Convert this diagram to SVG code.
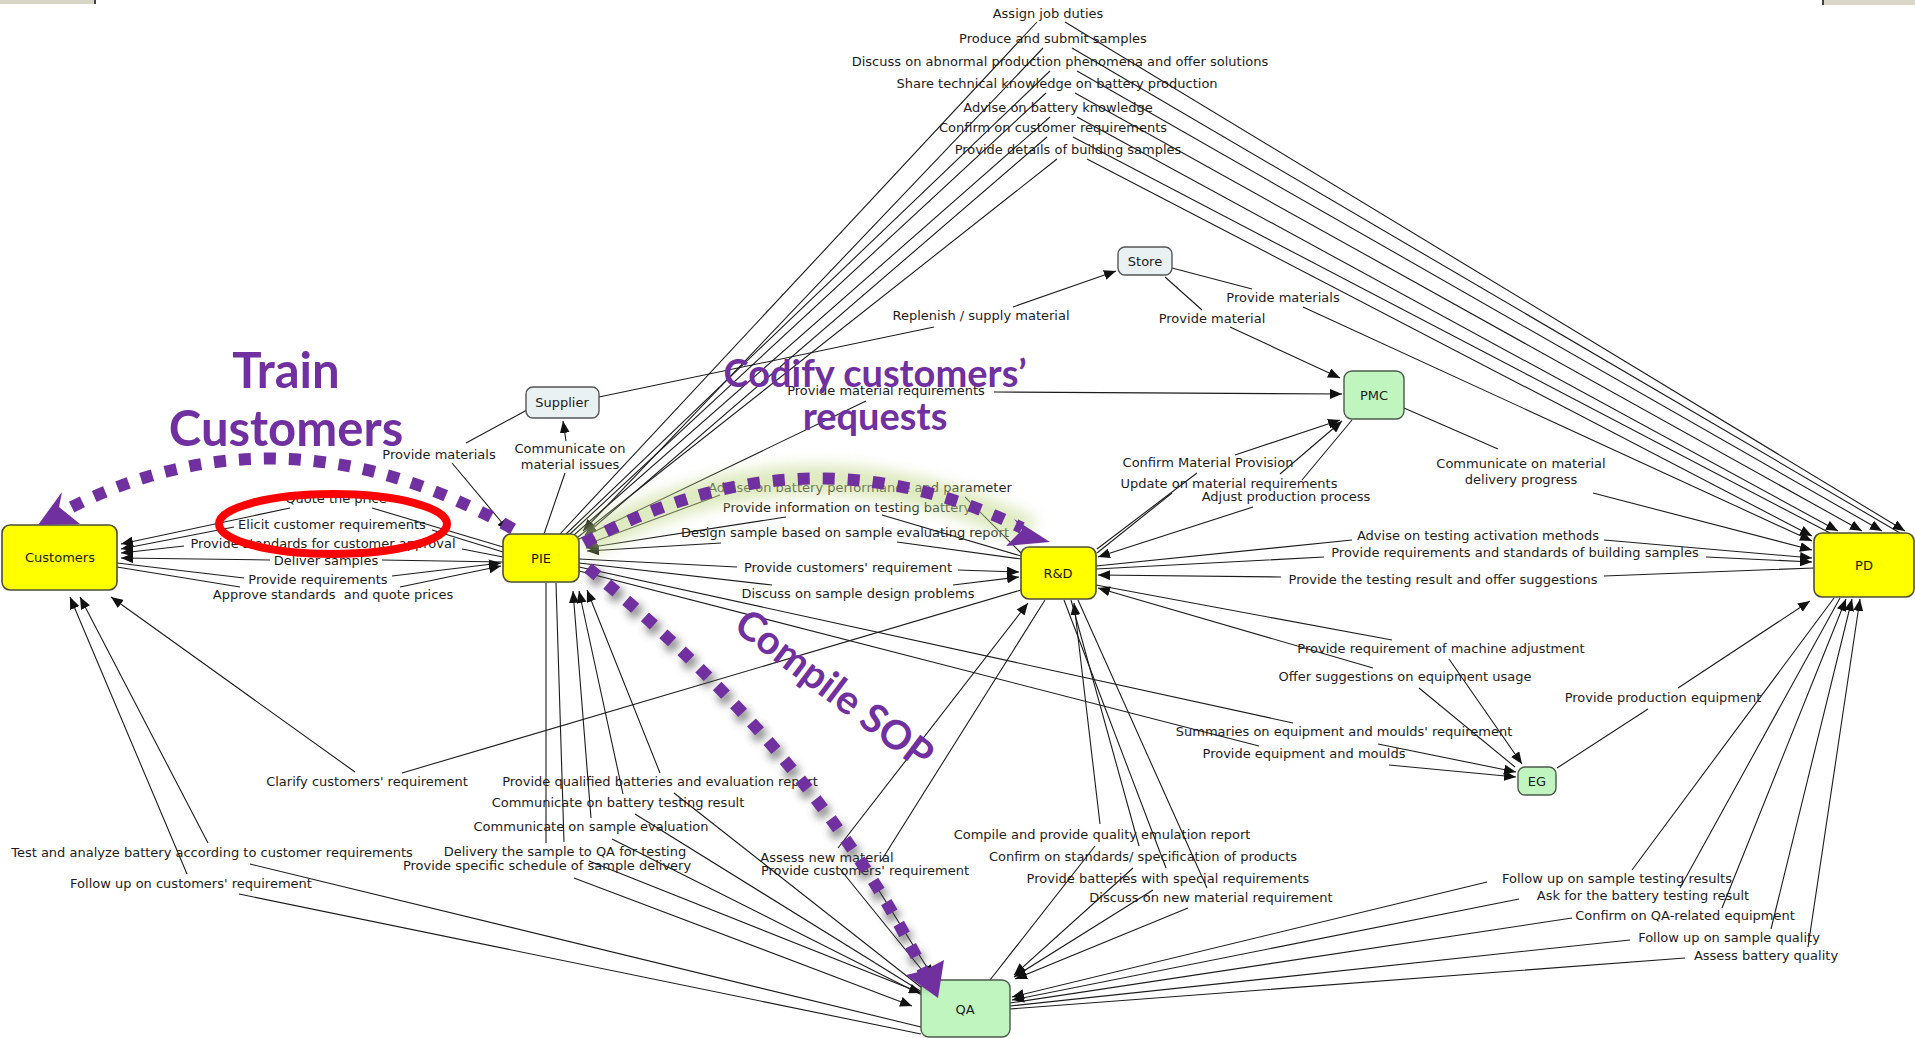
<svg xmlns="http://www.w3.org/2000/svg" width="1915" height="1038" viewBox="0 0 1915 1038">
  <style>
    .lbl { font-family: "DejaVu Sans", Verdana, sans-serif; font-size: 13px; fill: #1c1c1c; text-anchor: middle; }
    .ntx { font-family: "DejaVu Sans", Verdana, sans-serif; font-size: 13px; fill: #1c1c1c; text-anchor: middle; }
    .main rect { fill: #ffff00; stroke: #4d4d3a; stroke-width: 1.6; }
    .grn rect { fill: #c0f5c0; stroke: #4a5a4a; stroke-width: 1.4; }
    .ext rect { fill: #e9f1f3; stroke: #555; stroke-width: 1.4; }
    .e { fill: none; stroke: #1c1c1c; stroke-width: 1.1; }
    .a { fill: none; stroke: #1c1c1c; stroke-width: 1.1; marker-end: url(#arr); }
    .note { font-family: Lato, "Open Sans", sans-serif; font-weight: bold; fill: #7030a0; text-anchor: middle; }
    .dots { fill: none; stroke: #7030a0; stroke-width: 12; stroke-dasharray: 12 13; }
  </style>
  <defs>
    <marker id="arr" markerUnits="userSpaceOnUse" markerWidth="13" markerHeight="10" refX="12" refY="5" orient="auto">
      <path d="M0,0 L12,5 L0,10 z" fill="#111"/>
    </marker>
    <filter id="glow" x="-20%" y="-50%" width="140%" height="200%">
      <feGaussianBlur stdDeviation="7"/>
    </filter>
    <filter id="shade" x="-20%" y="-20%" width="140%" height="140%">
      <feGaussianBlur stdDeviation="4"/>
    </filter>
  </defs>

  <rect width="1915" height="1038" fill="#ffffff"/>
  <!-- window edge strips -->
  <rect x="0" y="0" width="95" height="4" fill="#d9d6c8"/>
  <rect x="94" y="0" width="2" height="4" fill="#444"/>
  <rect x="1823" y="0" width="92" height="5" fill="#d9d6c8"/>
  <rect x="1822" y="0" width="2" height="5" fill="#444"/>

  <g id="connectors">
    <!-- PIE / Customers -->
    <path class="a" d="M503,547 L372,508 M290,508 L121,544"/>
    <path class="a" d="M503,552 L432,530 M234,527 L121,549"/>
    <path class="a" d="M503,557 L462,549 M184,546 L121,553"/>
    <path class="a" d="M503,562 L382,560 M270,560 L121,558"/>
    <path class="a" d="M117,563 L244,578 M392,576 L501,563"/>
    <path class="a" d="M117,567 L240,587 M400,587 L501,566"/>
    <!-- Supplier -->
    <path class="a" d="M527,410 L466,443 M452,463 L509,531"/>
    <path class="a" d="M544,534 L565,473 M566,441 L563,421"/>
    <path class="a" d="M599,397 L934,327 M1013,307 L1116,271"/>
    <!-- Store -->
    <path class="a" d="M1172,268 L1252,289 M1303,307 L1812,541"/>
    <path class="a" d="M1165,277 L1202,310 M1230,327 L1340,378"/>
    <!-- PMC -->
    <path class="a" d="M579,539 L866,401 M994,392 L1342,394"/>
    <path class="a" d="M1404,408 L1498,449 M1593,493 L1812,550"/>
    <path class="a" d="M1097,549 L1197,473 M1235,455 L1340,420"/>
    <path class="a" d="M1097,553 L1172,493 M1280,474 L1342,421"/>
    <path class="a" d="M1352,420 L1302,480 M1253,507 L1098,557"/>
    <!-- R&D / PD -->
    <path class="a" d="M1096,566 L1352,540 M1604,540 L1812,558"/>
    <path class="a" d="M1096,569 L1324,557 M1706,557 L1812,562"/>
    <path class="a" d="M1814,568 L1604,576 M1281,577 L1098,575"/>
    <!-- EG -->
    <path class="a" d="M1096,585 L1392,640 M1449,659 L1522,764"/>
    <path class="a" d="M1515,767 L1419,688 M1373,668 L1098,588"/>
    <path class="a" d="M579,567 L1293,723 M1378,744 L1516,772"/>
    <path class="a" d="M579,571 L1259,746 M1389,765 L1516,777"/>
    <path class="a" d="M1557,768 L1648,709 M1678,688 L1810,601"/>
    <!-- PD / QA -->
    <path class="a" d="M1834,598 L1632,870 M1487,882 L1012,997"/>
    <path class="a" d="M1840,598 L1680,888 M1519,899 L1012,1000"/>
    <path class="a" d="M1010,1003 L1572,918 M1722,908 L1846,599"/>
    <path class="a" d="M1010,1006 L1630,940 M1771,929 L1852,599"/>
    <path class="a" d="M1010,1009 L1685,958 M1808,947 L1860,599"/>
    <!-- R&D / QA -->
    <path class="a" d="M990,980 L1095,846 M1100,824 L1074,603"/>
    <path class="a" d="M1071,600 L1139,846 M1133,868 L1014,975"/>
    <path class="a" d="M1064,600 L1166,868 M1153,890 L1014,977"/>
    <path class="a" d="M1078,600 L1207,888 M1188,908 L1015,979"/>
    <path class="a" d="M930,980 L840,869 M838,848 L1028,603"/>
    <path class="a" d="M1045,600 L881,861 M873,881 L933,977"/>
    <!-- R&D / Customers -->
    <path class="a" d="M1021,590 L402,773 M355,772 L111,597"/>
    <!-- PIE / QA -->
    <path class="a" d="M922,988 L674,793 M660,773 L587,590"/>
    <path class="a" d="M922,992 L635,814 M623,794 L579,591"/>
    <path class="a" d="M922,995 L612,839 M591,818 L573,591"/>
    <path class="a" d="M546,583 L546,843 M589,861 L921,993"/>
    <path class="a" d="M556,583 L564,842 M574,878 L912,1006"/>
    <!-- Customers / QA -->
    <path class="a" d="M921,1027 L250,864 M208,843 L80,597"/>
    <path class="a" d="M921,1034 L239,894 M187,874 L70,597"/>
    <!-- PIE / R&D -->
    <path class="a" d="M1021,553 L965,497 M720,495 L585,545"/>
    <path class="a" d="M1021,556 L882,515 M786,517 L586,548"/>
    <path class="a" d="M1021,559 L897,542 M721,543 L587,551"/>
    <path class="a" d="M579,559 L737,567 M958,570 L1019,572"/>
    <path class="a" d="M579,563 L772,585 M953,585 L1019,577"/>
    <!-- PIE / PD -->
    <path class="a" d="M560,534 L1037,22 M1065,22 L1905,531"/>
    <path class="a" d="M1900,533 L1072,48 M1043,48 L583,531"/>
    <path class="a" d="M566,534 L1050,71 M1077,71 L1882,531"/>
    <path class="a" d="M570,534 L1046,93 M1075,93 L1862,531"/>
    <path class="a" d="M574,535 L1050,117 M1077,117 L1838,531"/>
    <path class="a" d="M1830,533 L1073,137 M1047,137 L585,535"/>
    <path class="a" d="M578,537 L1057,159 M1087,159 L1812,536"/>
  </g>

  <g id="link-labels">
    <text class="lbl" x="1048" y="18">Assign job duties</text>
    <text class="lbl" x="1053" y="43">Produce and submit samples</text>
    <text class="lbl" x="1060" y="66">Discuss on abnormal production phenomena and offer solutions</text>
    <text class="lbl" x="1057" y="88">Share technical knowledge on battery production</text>
    <text class="lbl" x="1058" y="112">Advise on battery knowledge</text>
    <text class="lbl" x="1053" y="132">Confirm on customer requirements</text>
    <text class="lbl" x="1068" y="154">Provide details of building samples</text>
    <text class="lbl" x="981" y="320">Replenish / supply material</text>
    <text class="lbl" x="1283" y="302">Provide materials</text>
    <text class="lbl" x="1212" y="323">Provide material</text>
    <text class="lbl" x="886" y="395">Provide material requirements</text>
    <text class="lbl" x="1521" y="468">Communicate on material</text>
    <text class="lbl" x="1521" y="484">delivery progress</text>
    <text class="lbl" x="1208" y="467">Confirm Material Provision</text>
    <text class="lbl" x="1229" y="488">Update on material requirements</text>
    <text class="lbl" x="1286" y="501">Adjust production process</text>
    <text class="lbl" x="439" y="459">Provide materials</text>
    <text class="lbl" x="570" y="453">Communicate on</text>
    <text class="lbl" x="570" y="469">material issues</text>
    <text class="lbl" x="336" y="503">Quote the price</text>
    <text class="lbl" x="332" y="529">Elicit customer requirements</text>
    <text class="lbl" x="323" y="548">Provide standards for customer approval</text>
    <text class="lbl" x="326" y="565">Deliver samples</text>
    <text class="lbl" x="318" y="584">Provide requirements</text>
    <text class="lbl" x="333" y="599" xml:space="preserve">Approve standards  and quote prices</text>
    <text class="lbl" x="860" y="492">Advise on battery performance and parameter</text>
    <text class="lbl" x="847" y="512">Provide information on testing battery</text>
    <text class="lbl" x="845" y="537">Design sample based on sample evaluating report</text>
    <text class="lbl" x="848" y="572">Provide customers' requirement</text>
    <text class="lbl" x="858" y="598">Discuss on sample design problems</text>
    <text class="lbl" x="1478" y="540">Advise on testing activation methods</text>
    <text class="lbl" x="1515" y="557">Provide requirements and standards of building samples</text>
    <text class="lbl" x="1443" y="584">Provide the testing result and offer suggestions</text>
    <text class="lbl" x="1441" y="653">Provide requirement of machine adjustment</text>
    <text class="lbl" x="1405" y="681">Offer suggestions on equipment usage</text>
    <text class="lbl" x="1344" y="736">Summaries on equipment and moulds' requirement</text>
    <text class="lbl" x="1304" y="758">Provide equipment and moulds</text>
    <text class="lbl" x="1663" y="702">Provide production equipment</text>
    <text class="lbl" x="367" y="786">Clarify customers' requirement</text>
    <text class="lbl" x="660" y="786">Provide qualified batteries and evaluation report</text>
    <text class="lbl" x="618" y="807">Communicate on battery testing result</text>
    <text class="lbl" x="591" y="831">Communicate on sample evaluation</text>
    <text class="lbl" x="565" y="856">Delivery the sample to QA for testing</text>
    <text class="lbl" x="547" y="870">Provide specific schedule of sample delivery</text>
    <text class="lbl" x="212" y="857">Test and analyze battery according to customer requirements</text>
    <text class="lbl" x="191" y="888">Follow up on customers' requirement</text>
    <text class="lbl" x="827" y="862">Assess new material</text>
    <text class="lbl" x="865" y="875">Provide customers' requirement</text>
    <text class="lbl" x="1102" y="839">Compile and provide quality emulation report</text>
    <text class="lbl" x="1143" y="861">Confirm on standards/ specification of products</text>
    <text class="lbl" x="1168" y="883">Provide batteries with special requirements</text>
    <text class="lbl" x="1211" y="902">Discuss on new material requirement</text>
    <text class="lbl" x="1617" y="883">Follow up on sample testing results</text>
    <text class="lbl" x="1643" y="900">Ask for the battery testing result</text>
    <text class="lbl" x="1685" y="920">Confirm on QA-related equipment</text>
    <text class="lbl" x="1729" y="942">Follow up on sample quality</text>
    <text class="lbl" x="1766" y="960">Assess battery quality</text>
  </g>

  <g id="node-customers" class="main">
    <rect x="2" y="525" width="115" height="65" rx="8"/>
    <text class="ntx" x="60" y="562">Customers</text>
  </g>
  <g id="node-pie" class="main">
    <rect x="503" y="534" width="76" height="48" rx="8"/>
    <text class="ntx" x="541" y="563">PIE</text>
  </g>
  <g id="node-rd" class="main">
    <rect x="1021" y="547" width="75" height="52" rx="8"/>
    <text class="ntx" x="1058" y="578">R&amp;D</text>
  </g>
  <g id="node-pd" class="main">
    <rect x="1814" y="533" width="100" height="64" rx="8"/>
    <text class="ntx" x="1864" y="570">PD</text>
  </g>
  <g id="node-pmc" class="grn">
    <rect x="1344" y="371" width="60" height="48" rx="8"/>
    <text class="ntx" x="1374" y="400">PMC</text>
  </g>
  <g id="node-eg" class="grn">
    <rect x="1518" y="767" width="38" height="28" rx="7"/>
    <text class="ntx" x="1537" y="786">EG</text>
  </g>
  <g id="node-qa" class="grn">
    <rect x="921" y="980" width="89" height="57" rx="8"/>
    <text class="ntx" x="965" y="1014">QA</text>
  </g>
  <g id="node-store" class="ext">
    <rect x="1118" y="247" width="54" height="28" rx="7"/>
    <text class="ntx" x="1145" y="266">Store</text>
  </g>
  <g id="node-supplier" class="ext">
    <rect x="526" y="387" width="73" height="31" rx="7"/>
    <text class="ntx" x="562" y="407">Supplier</text>
  </g>

  <!-- highlight on the elicitation link -->
  <ellipse cx="333" cy="524" rx="114" ry="30" fill="none" stroke="#ff0000" stroke-width="8"/>

  <g id="annotations">
    <!-- Train Customers -->
    <path class="dots" d="M513,529 Q280,396 58,514"/>
    <polygon points="38,525 62,492 59,507 80,524" fill="#7030a0"/>
    <text class="note" x="286" y="388" font-size="49">Train</text>
    <text class="note" x="286" y="446" font-size="49">Customers</text>

    <!-- Codify customers' requests -->
    <path d="M584,543 Q805,422 1030,532" fill="none" stroke="#c3d98c" stroke-width="30" opacity="0.55" filter="url(#glow)"/>
    <path class="dots" d="M584,543 Q805,422 1022,528"/>
    <polygon points="1050,542 1014,519 1022,530 1006,546" fill="#7030a0"/>
    <text class="note" x="875" y="387" font-size="38">Codify customers’</text>
    <text class="note" x="875" y="430" font-size="38">requests</text>

    <!-- Compile SOP -->
    <path d="M592,574 Q825,766 932,990" fill="none" stroke="#3a3a3a" stroke-width="14" stroke-dasharray="12 13" opacity="0.6" filter="url(#shade)"/>
    <path class="dots" d="M588,568 Q821,760 924,972"/>
    <polygon points="938,998 906,975 923,971 944,960" fill="#7030a0"/>
    <text class="note" x="0" y="0" font-size="40" transform="translate(826,700) rotate(37)">Compile SOP</text>
  </g>
</svg>
